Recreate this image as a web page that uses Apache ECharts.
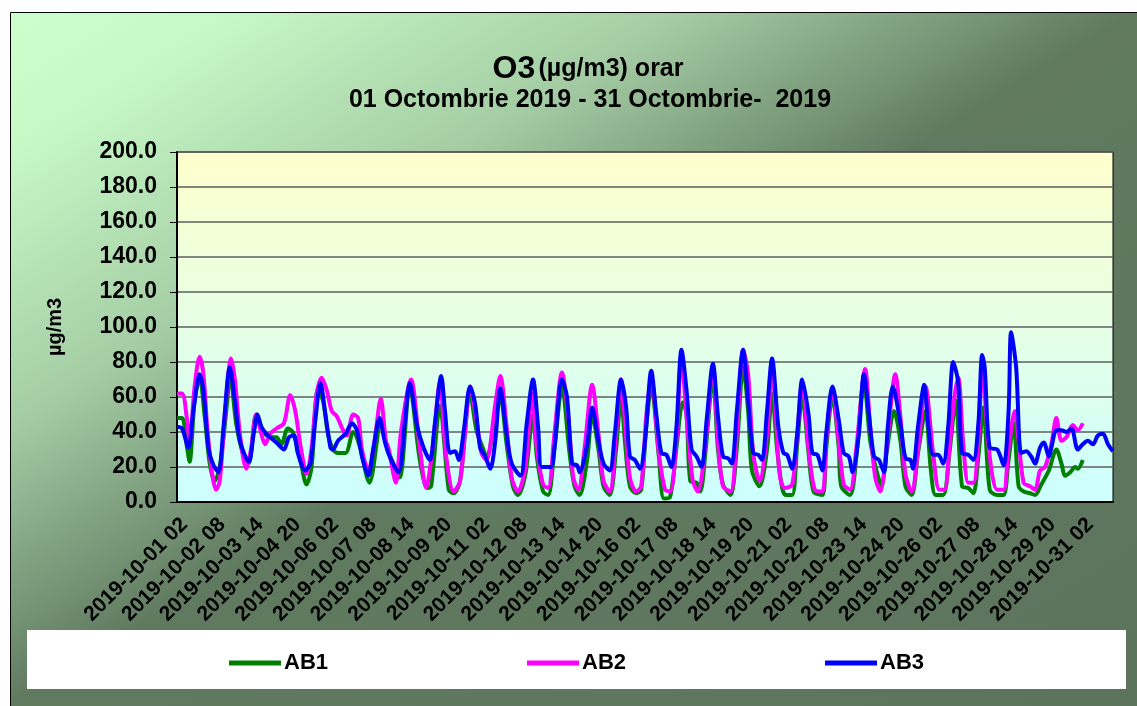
<!DOCTYPE html>
<html>
<head>
<meta charset="utf-8">
<title>O3 orar - Octombrie 2019</title>
<script src="https://cdn.jsdelivr.net/npm/echarts@6/dist/echarts.min.js"></script>
<style>
html, body { margin: 0; padding: 0; background: #fff; }
#chart { width: 1137px; height: 706px; }
</style>
</head>
<body>
<div id="chart"></div>
<script>
// etichete axa X, din 30 in 30 de ore (ora 0 = 2019-10-01 02)
const tickLabels = ['2019-10-01 02', '2019-10-02 08', '2019-10-03 14', '2019-10-04 20', '2019-10-06 02',
  '2019-10-07 08', '2019-10-08 14', '2019-10-09 20', '2019-10-11 02', '2019-10-12 08', '2019-10-13 14',
  '2019-10-14 20', '2019-10-16 02', '2019-10-17 08', '2019-10-18 14', '2019-10-19 20', '2019-10-21 02',
  '2019-10-22 08', '2019-10-23 14', '2019-10-24 20', '2019-10-26 02', '2019-10-27 08', '2019-10-28 14',
  '2019-10-29 20', '2019-10-31 02'];

// [ora, valoare]
const ab1 = [[0,48],[4,48],[8,31],[10,23],[14,58],[18,71],[22,49],[26,22],[30,12],[34,20],[40,58],[42,75],[47,45],[53,26],[57,22],[63,50],[69,40],[74,37],[79,37],[83,33],[88,42],[92,40],[98,24],[103,10],[107,20],[112,64],[116,58],[120,39],[124,30],[128,28],[134,28],[140,40],[146,30],[151,14],[153,11],[159,35],[161,47],[167,31],[172,22],[177,14],[185,66],[193,24],[199,8],[202,9],[209,55],[216,7],[220,5],[225,12],[233,62],[238,41],[243,31],[246,26],[253,47],[257,60],[262,33],[267,9],[271,4],[277,16],[283,50],[286,26],[291,6],[295,4],[300,30],[306,66],[312,28],[316,9],[320,4],[326,24],[330,50],[335,30],[339,9],[344,4],[349,30],[353,60],[356,35],[360,9],[365,5],[369,7],[373,43],[377,66],[383,26],[387,2],[392,3],[397,31],[402,57],[405,50],[408,12],[413,11],[416,6],[420,28],[426,71],[430,30],[434,10],[440,4],[445,31],[450,77],[454,52],[457,18],[463,9],[469,30],[473,62],[477,30],[481,8],[484,4],[489,4],[493,33],[497,60],[502,28],[506,6],[513,4],[516,30],[521,60],[526,31],[528,9],[535,4],[540,26],[546,70],[551,35],[556,18],[560,9],[564,28],[570,52],[575,35],[579,9],[584,4],[589,28],[595,52],[599,20],[603,4],[609,4],[614,28],[619,58],[624,9],[629,8],[633,5],[637,26],[641,54],[646,7],[652,4],[657,4],[661,24],[665,45],[669,9],[673,6],[678,5],[682,4],[687,10],[693,18],[699,30],[703,22],[706,15],[710,17],[714,20],[716,19],[720,24]];

const ab2 = [[0,62],[4,62],[8,47],[10,35],[14,66],[18,83],[21,73],[24,43],[28,16],[31,7],[34,12],[38,49],[43,82],[46,70],[50,39],[55,19],[59,31],[63,50],[67,39],[70,33],[74,39],[79,42],[85,45],[90,61],[94,52],[98,33],[103,16],[107,31],[111,62],[115,71],[119,64],[123,52],[127,49],[132,41],[135,38],[140,50],[144,48],[147,30],[152,18],[157,35],[162,59],[166,35],[168,31],[174,11],[178,40],[186,70],[193,31],[198,8],[203,30],[209,68],[214,26],[220,6],[225,12],[229,40],[233,66],[238,47],[242,28],[246,24],[253,56],[257,72],[262,43],[266,14],[271,6],[277,20],[282,62],[286,31],[291,10],[295,8],[300,39],[306,74],[311,49],[315,14],[319,7],[324,31],[330,67],[335,39],[339,12],[344,6],[349,39],[353,70],[356,47],[360,14],[365,6],[369,9],[373,49],[377,71],[383,28],[388,7],[392,6],[397,35],[401,83],[405,49],[410,12],[414,6],[420,33],[426,77],[430,35],[434,9],[440,6],[445,39],[450,87],[454,73],[458,28],[463,12],[469,39],[473,77],[476,50],[479,16],[483,8],[489,10],[493,39],[497,68],[502,31],[507,7],[513,6],[516,35],[521,64],[526,35],[530,10],[535,7],[540,31],[547,76],[551,43],[555,14],[559,6],[564,31],[571,73],[575,49],[579,16],[584,6],[589,30],[595,66],[601,28],[606,7],[610,7],[614,31],[618,60],[621,71],[625,33],[629,11],[633,11],[637,35],[640,75],[646,26],[652,7],[657,7],[661,31],[666,52],[669,35],[673,11],[678,9],[682,7],[686,18],[690,20],[695,33],[699,48],[703,35],[707,37],[712,44],[716,41],[720,45]];

const ab3 = [[0,43],[4,42],[9,31],[13,52],[18,73],[21,64],[25,31],[29,21],[33,17],[37,43],[42,77],[46,58],[50,35],[57,23],[61,39],[64,50],[67,43],[71,39],[74,37],[79,34],[85,30],[89,37],[93,38],[96,28],[102,18],[106,22],[110,47],[114,68],[118,50],[122,31],[124,30],[128,35],[134,39],[139,45],[143,41],[147,26],[152,15],[156,30],[161,48],[165,35],[169,26],[176,17],[181,45],[185,68],[191,43],[196,31],[201,24],[205,45],[210,72],[213,52],[217,28],[221,29],[224,24],[228,41],[233,66],[237,56],[241,31],[245,26],[249,19],[253,35],[257,65],[262,39],[266,22],[273,15],[278,45],[283,70],[287,43],[290,20],[297,20],[300,31],[306,70],[310,60],[314,22],[318,21],[320,17],[326,33],[330,54],[335,35],[339,22],[344,18],[348,39],[353,70],[357,54],[360,26],[364,24],[368,19],[372,35],[377,75],[381,50],[385,28],[389,27],[393,20],[397,43],[401,87],[405,64],[409,30],[413,26],[417,20],[421,47],[426,79],[430,49],[434,26],[438,25],[441,22],[445,52],[450,87],[454,58],[458,28],[462,27],[465,24],[469,52],[473,82],[478,43],[482,28],[485,27],[489,19],[493,39],[497,70],[502,50],[505,28],[509,27],[513,18],[516,39],[521,66],[526,47],[530,28],[534,26],[537,17],[542,39],[546,73],[550,50],[554,26],[558,24],[562,17],[565,43],[569,66],[575,45],[579,25],[583,24],[585,19],[589,43],[594,67],[597,45],[601,27],[605,27],[609,22],[613,43],[617,80],[621,68],[624,28],[629,27],[633,24],[637,45],[640,84],[642,77],[646,31],[652,30],[657,21],[661,52],[663,97],[667,77],[671,28],[675,29],[679,26],[682,22],[686,31],[689,34],[693,26],[695,31],[699,41],[703,41],[707,40],[711,42],[716,30],[720,33],[724,35],[728,33],[732,38],[736,39],[740,33],[744,29]];

const FONT = "'Liberation Sans', Arial, sans-serif";

function makeLine(name, data, color) {
  return {
    name: name,
    type: 'line',
    data: data,
    smooth: 0.3,
    showSymbol: false,
    animation: false,
    lineStyle: { width: 4, color: color },
    itemStyle: { color: color }
  };
}

const chart = echarts.init(document.getElementById('chart'), null, { renderer: 'canvas' });
chart.setOption({
  backgroundColor: '#ffffff',
  graphic: [
    {
      type: 'rect', z: -10, silent: true,
      shape: { x: 10.5, y: 12.5, width: 1140, height: 700 },
      style: {
        stroke: '#000', lineWidth: 1,
        fill: {
          type: 'linear', global: true, x: 10, y: 12, x2: 630, y2: 1018,
          colorStops: [
            { offset: 0, color: '#ccffcc' },
            { offset: 0.1, color: '#c6f8c6' },
            { offset: 0.3, color: '#a4cca4' },
            { offset: 0.5, color: '#607a60' },
            { offset: 1, color: '#5c745c' }
          ]
        }
      }
    },
    {
      // caseta legendei acopera capetele etichetelor de pe axa X
      type: 'rect', z: 100, silent: true,
      shape: { x: 27, y: 630, width: 1099, height: 59 },
      style: { fill: '#ffffff' }
    },
    {
      type: 'text', x: 588, y: 69, silent: true,
      style: {
        text: '{a|O3} {b|(µg/m3) orar}',
        align: 'center', verticalAlign: 'middle',
        rich: {
          a: { fontSize: 32, fontWeight: 'bold', fontFamily: FONT, fill: '#000' },
          b: { fontSize: 25, fontWeight: 'bold', fontFamily: FONT, fill: '#000' }
        }
      }
    },
    {
      type: 'text', x: 590, y: 100, silent: true,
      style: {
        text: '01 Octombrie 2019 - 31 Octombrie-  2019',
        align: 'center', verticalAlign: 'middle',
        font: 'bold 25px ' + FONT, fill: '#000'
      }
    }
  ],
  legend: {
    data: ['AB1', 'AB2', 'AB3'],
    z: 110,
    left: 224,
    top: 647,
    icon: 'rect',
    itemWidth: 52,
    itemHeight: 5,
    itemGap: 199,
    textStyle: { fontSize: 22, fontWeight: 'bold', fontFamily: FONT, color: '#000', padding: [0, 0, 0, -2] }
  },
  grid: {
    left: 177, right: 24, top: 152, bottom: 204,
    containLabel: false,
    outerBoundsMode: 'none',
    show: true,
    borderColor: '#000',
    borderWidth: 1,
    backgroundColor: {
      type: 'linear', x: 0, y: 0, x2: 0, y2: 1,
      colorStops: [
        { offset: 0, color: '#ffffcc' },
        { offset: 1, color: '#ccffff' }
      ]
    }
  },
  xAxis: {
    type: 'value',
    min: 0,
    max: 744,
    interval: 30,
    axisLine: { show: true, lineStyle: { color: '#000', width: 2 } },
    axisTick: { show: false },
    splitLine: { show: false },
    axisLabel: {
      rotate: 45,
      margin: 12,
      verticalAlign: 'top',
      showMaxLabel: false,
      fontSize: 21,
      fontWeight: 'bold',
      fontFamily: FONT,
      color: '#000',
      formatter: function (v) {
        return v % 30 === 0 && tickLabels[v / 30] ? tickLabels[v / 30] : '';
      }
    }
  },
  yAxis: {
    type: 'value',
    min: 0,
    max: 200,
    interval: 20,
    name: 'µg/m3',
    nameLocation: 'middle',
    nameRotate: 90,
    nameGap: 112,
    nameTextStyle: { fontSize: 20, fontWeight: 'bold', fontFamily: FONT, color: '#000' },
    axisLine: { show: true, lineStyle: { color: '#000', width: 2 } },
    axisTick: { show: true, inside: false, length: 7, lineStyle: { color: '#000', width: 1 } },
    splitLine: { show: true, lineStyle: { color: '#5e5e5e', width: 1.5 } },
    axisLabel: {
      margin: 20,
      fontSize: 23,
      fontWeight: 'bold',
      fontFamily: FONT,
      color: '#000',
      formatter: function (v) { return v.toFixed(1); }
    }
  },
  series: [
    makeLine('AB1', ab1, '#008000'),
    makeLine('AB2', ab2, '#ff00ff'),
    makeLine('AB3', ab3, '#0000ff')
  ]
});
</script>
</body>
</html>
